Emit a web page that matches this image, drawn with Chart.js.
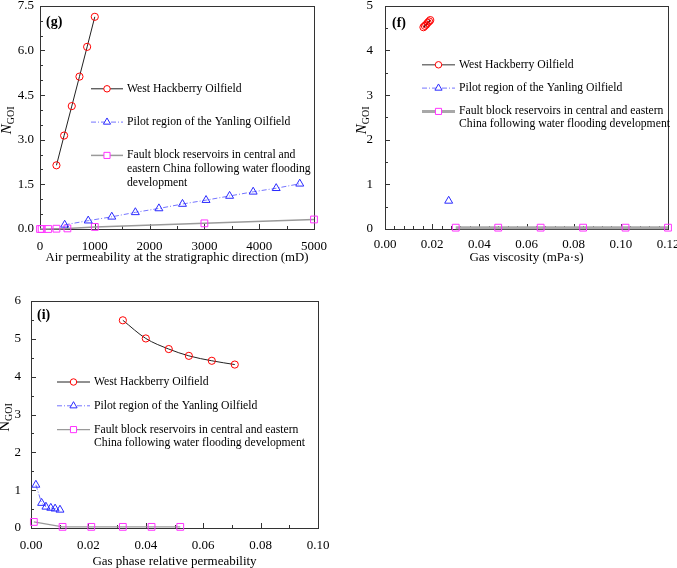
<!DOCTYPE html>
<html>
<head>
<meta charset="utf-8">
<script src="https://cdn.jsdelivr.net/npm/chart.js@4.4.0/dist/chart.umd.min.js"></script>
<style>
  body { margin: 0; background: #fff; width: 677px; height: 568px; position: relative; overflow: hidden; }
  .panel { position: absolute; }
</style>
</head>
<body>
<div class="panel" style="left:0;top:0;width:330px;height:270px"><canvas id="chartG"></canvas></div>
<div class="panel" style="left:340px;top:0;width:337px;height:270px"><canvas id="chartF"></canvas></div>
<div class="panel" style="left:0;top:280px;width:330px;height:288px"><canvas id="chartI"></canvas></div>
<script>
// series names (same three in every panel)
const seriesNames = [
    ['West Hackberry Oilfield'],
    ['Pilot region of the Yanling Oilfield'],
    ['Fault block reservoirs in central and eastern', 'China following water flooding development']
];
const seriesNamesG = [
    ['West Hackberry Oilfield'],
    ['Pilot region of the Yanling Oilfield'],
    ['Fault block reservoirs in central and', 'eastern China following water flooding', 'development']
];

// (g) air permeability at the stratigraphic direction (mD)
const gHackX = [300, 440, 580, 720, 860, 1000];
const gHackY = [2.14, 3.14, 4.13, 5.12, 6.12, 7.13];
const gYanX = [450, 880, 1310, 1740, 2170, 2600, 3030, 3460, 3890, 4310, 4740];
const gYanY = [0.14, 0.28, 0.41, 0.56, 0.69, 0.84, 0.97, 1.11, 1.25, 1.37, 1.52];
const gFaultX = [0, 30, 150, 300, 500, 1000, 3000, 5000];
const gFaultY = [0, 0, 0, 0.01, 0.02, 0.07, 0.19, 0.32];
const gXTicks = [0, 1000, 2000, 3000, 4000, 5000];
const gXTickLabels = ['0', '1000', '2000', '3000', '4000', '5000'];
const gYTicks = [0, 1.5, 3, 4.5, 6, 7.5];
const gYTickLabels = ['0.0', '1.5', '3.0', '4.5', '6.0', '7.5'];

// (f) gas viscosity (mPa·s)
const fHackX = [0.0163, 0.0169, 0.0175, 0.0181, 0.0187, 0.0192];
const fHackY = [4.52, 4.55, 4.58, 4.62, 4.65, 4.68];
const fYanX = [0.027];
const fYanY = [0.63];
const fFaultX = [0.030, 0.048, 0.066, 0.084, 0.102, 0.120];
const fFaultY = [0.03, 0.03, 0.03, 0.03, 0.03, 0.03];
const fXTicks = [0, 0.02, 0.04, 0.06, 0.08, 0.10, 0.12];
const fXTickLabels = ['0.00', '0.02', '0.04', '0.06', '0.08', '0.10', '0.12'];
const fYTicks = [0, 1, 2, 3, 4, 5];
const fYTickLabels = ['0', '1', '2', '3', '4', '5'];

// (i) gas phase relative permeability
const iHackX = [0.032, 0.040, 0.048, 0.055, 0.063, 0.071];
const iHackY = [5.49, 5.01, 4.73, 4.55, 4.42, 4.32];
const iYanX = [0.0017, 0.0037, 0.0052, 0.0069, 0.0084, 0.0101];
const iYanY = [1.14, 0.66, 0.56, 0.53, 0.51, 0.48];
const iFaultX = [0.001, 0.011, 0.021, 0.032, 0.042, 0.052];
const iFaultY = [0.16, 0.03, 0.03, 0.03, 0.03, 0.03];
const iXTicks = [0, 0.02, 0.04, 0.06, 0.08, 0.10];
const iXTickLabels = ['0.00', '0.02', '0.04', '0.06', '0.08', '0.10'];
const iYTicks = [0, 1, 2, 3, 4, 5, 6];
const iYTickLabels = ['0', '1', '2', '3', '4', '5', '6'];

const FONT = '"Liberation Serif", "Times New Roman", serif';

const HACK = { borderColor: '#222', borderWidth: 1, pointStyle: 'circle', pointRadius: 3.6, pointBorderColor: '#ff0000' };
const YAN = { borderColor: '#7474ff', borderWidth: 1, borderDash: [5, 2, 1, 2], pointStyle: 'triangle', pointRadius: 4.6, pointBorderColor: '#2a2aff' };
const FAULT = { borderColor: '#9a9a9a', borderWidth: 1.5, pointStyle: 'rect', pointRadius: 4.8, pointBorderColor: '#ff33ff' };

function series(name, xs, ys, style, extra) {
    return Object.assign({
        label: name.join(' '),
        legendText: name,
        data: xs.map((x, i) => ({ x: x, y: ys[i] })),
        showLine: true,
        clip: false,
        backgroundColor: 'rgba(0,0,0,0)',
        pointBackgroundColor: 'rgba(0,0,0,0)',
        pointBorderWidth: 1
    }, style, extra || {});
}

// draws box, inward ticks, panel letter, y title with subscript and the legend
const panelFrame = {
    id: 'panelFrame',
    beforeDatasetsDraw(chart, args, opts) {
        const ctx = chart.ctx;
        const a = chart.chartArea;
        const xs = chart.scales.x, ys = chart.scales.y;
        ctx.save();
        ctx.strokeStyle = '#333';
        ctx.lineWidth = 1;
        ctx.strokeRect(Math.round(a.left) + 0.5, Math.round(a.top) + 0.5, Math.round(a.right - a.left), Math.round(a.bottom - a.top));
        ctx.beginPath();
        const minorX = [], minorY = [];
        for (let v = xs.min; v <= xs.max + 1e-9; v += opts.minorX) minorX.push(v);
        for (let v = ys.min; v <= ys.max + 1e-9; v += opts.minorY) minorY.push(v);
        minorX.forEach(v => { const px = Math.round(xs.getPixelForValue(v)) + 0.5; ctx.moveTo(px, a.bottom); ctx.lineTo(px, a.bottom - 3); });
        minorY.forEach(v => { const py = Math.round(ys.getPixelForValue(v)) + 0.5; ctx.moveTo(a.left, py); ctx.lineTo(a.left + 3, py); });
        xs.ticks.forEach(t => { const px = Math.round(xs.getPixelForValue(t.value)) + 0.5; ctx.moveTo(px, a.bottom); ctx.lineTo(px, a.bottom - 5); });
        ys.ticks.forEach(t => { const py = Math.round(ys.getPixelForValue(t.value)) + 0.5; ctx.moveTo(a.left, py); ctx.lineTo(a.left + 5, py); });
        ctx.stroke();
        ctx.restore();
    },
    afterDraw(chart, args, opts) {
        const ctx = chart.ctx;
        const a = chart.chartArea;
        ctx.save();
        ctx.fillStyle = '#000';
        // panel letter
        ctx.font = 'bold 14px ' + FONT;
        ctx.textAlign = 'left';
        ctx.textBaseline = 'middle';
        ctx.fillText(opts.letter, a.left + opts.letterDx, a.top + opts.letterDy);
        // y title N_GOI
        ctx.save();
        ctx.translate(a.left + opts.titleDx, (a.top + a.bottom) / 2 + 3);
        ctx.rotate(-Math.PI / 2);
        const mainFont = (opts.italic ? 'italic ' : '') + '15px ' + FONT;
        const subFont = '10px ' + FONT;
        ctx.font = mainFont;
        const wN = ctx.measureText('N').width;
        ctx.font = subFont;
        const wS = ctx.measureText('GOI').width;
        const start = -(wN + wS) / 2;
        ctx.textBaseline = 'alphabetic';
        ctx.font = mainFont;
        ctx.fillText('N', start, 0);
        ctx.font = subFont;
        ctx.fillText('GOI', start + wN, 3);
        ctx.restore();
        // legend
        const lg = opts.legend;
        chart.data.datasets.forEach((ds, i) => {
            const x0 = a.left + lg.dx;
            const y0 = a.top + lg.dy + i * lg.rowGap;
            ctx.save();
            ctx.strokeStyle = ds.legendLine || ds.borderColor;
            ctx.lineWidth = ds.borderWidth;
            ctx.setLineDash(ds.borderDash || []);
            ctx.beginPath();
            ctx.moveTo(x0, y0);
            ctx.lineTo(x0 + lg.len, y0);
            ctx.stroke();
            ctx.setLineDash([]);
            ctx.lineWidth = 1;
            ctx.strokeStyle = ds.pointBorderColor;
            ctx.fillStyle = '#fff';
            Chart.helpers.drawPoint(ctx, { pointStyle: ds.pointStyle, rotation: 0, radius: ds.pointRadius * 0.9, borderWidth: 1 }, x0 + lg.len / 2, y0);
            ctx.restore();
            ctx.font = '11.7px ' + FONT;
            ctx.fillStyle = '#000';
            ctx.textAlign = 'left';
            ctx.textBaseline = 'middle';
            ds.legendText.forEach((line, k) => {
                ctx.fillText(line, x0 + lg.len + 4, y0 + k * lg.lineGap);
            });
        });
        ctx.restore();
    }
};

function fixAxis(size) {
    return function (scale) {
        if (scale.isHorizontal()) scale.height = size; else scale.width = size;
        scale.paddingLeft = 0; scale.paddingRight = 0; scale.paddingTop = 0; scale.paddingBottom = 0;
    };
}

function makePanel(id, cfg) {
    const tickFont = { family: FONT, size: 13 };
    new Chart(document.getElementById(id), {
        type: 'scatter',
        data: { datasets: cfg.datasets },
        options: {
            responsive: true,
            maintainAspectRatio: false,
            animation: false,
            events: [],
            layout: { padding: { left: 0, top: cfg.padTop, right: cfg.padRight, bottom: 0 } },
            plugins: {
                legend: { display: false },
                tooltip: { enabled: false },
                panelFrame: cfg.frame
            },
            scales: {
                x: {
                    type: 'linear',
                    min: cfg.xMin, max: cfg.xMax,
                    grid: { display: false, drawTicks: false },
                    border: { display: false },
                    afterBuildTicks: s => { s.ticks = cfg.xTicks.map(v => ({ value: v })); },
                    afterFit: fixAxis(cfg.xAxisSize),
                    ticks: {
                        autoSkip: false, maxRotation: 0, padding: cfg.xTickPad,
                        color: '#000', font: tickFont,
                        callback: (v, i) => cfg.xTickLabels[i]
                    },
                    title: {
                        display: true, text: cfg.xTitle, color: '#000',
                        font: { family: FONT, size: cfg.xTitleSize, lineHeight: 1 },
                        padding: { top: 0, bottom: cfg.xTitlePad }
                    }
                },
                y: {
                    type: 'linear',
                    min: cfg.yMin, max: cfg.yMax,
                    grid: { display: false, drawTicks: false },
                    border: { display: false },
                    afterBuildTicks: s => { s.ticks = cfg.yTicks.map(v => ({ value: v })); },
                    afterFit: fixAxis(cfg.yAxisSize),
                    ticks: {
                        autoSkip: false, padding: cfg.yTickPad,
                        color: '#000', font: tickFont,
                        callback: (v, i) => cfg.yTickLabels[i]
                    }
                }
            }
        },
        plugins: [panelFrame]
    });
}

makePanel('chartG', {
    datasets: [
        series(seriesNamesG[0], gHackX, gHackY, HACK),
        series(seriesNamesG[1], gYanX, gYanY, YAN),
        series(seriesNamesG[2], gFaultX, gFaultY, FAULT)
    ],
    xMin: 0, xMax: 5000, yMin: 0, yMax: 7.5,
    xTicks: gXTicks, xTickLabels: gXTickLabels, yTicks: gYTicks, yTickLabels: gYTickLabels,
    xTitle: 'Air permeability at the stratigraphic direction (mD)', xTitleSize: 12.8,
    padTop: 4, padRight: 16, xAxisSize: 41, yAxisSize: 40,
    xTickPad: 10, yTickPad: 6, xTitlePad: 6,
    frame: {
        letter: '(g)', letterDx: 6, letterDy: 17, titleDx: -29, italic: true, minorX: 500, minorY: 0.5,
        legend: { dx: 51, dy: 83, rowGap: 33.3, lineGap: 14, len: 32 }
    }
});

makePanel('chartF', {
    datasets: [
        series(seriesNames[0], fHackX, fHackY, HACK, { legendLine: '#777', borderWidth: 1.5 }),
        series(seriesNames[1], fYanX, fYanY, YAN),
        series(seriesNames[2], fFaultX, fFaultY, FAULT, { borderColor: '#a8a8a8', borderWidth: 3 })
    ],
    xMin: 0, xMax: 0.12, yMin: 0, yMax: 5,
    xTicks: fXTicks, xTickLabels: fXTickLabels, yTicks: fYTicks, yTickLabels: fYTickLabels,
    xTitle: 'Gas viscosity (mPa\u00b7s)', xTitleSize: 13,
    padTop: 4, padRight: 9, xAxisSize: 41, yAxisSize: 45,
    xTickPad: 8, yTickPad: 12, xTitlePad: 6,
    frame: {
        letter: '(f)', letterDx: 7, letterDy: 18, titleDx: -19, italic: true, minorX: 0.004, minorY: 0.5,
        legend: { dx: 37, dy: 59, rowGap: 23.3, lineGap: 13, len: 33 }
    }
});

makePanel('chartI', {
    datasets: [
        series(seriesNames[0], iHackX, iHackY, HACK, { cubicInterpolationMode: 'monotone' }),
        series(seriesNames[1], iYanX, iYanY, YAN),
        series(seriesNames[2], iFaultX, iFaultY, FAULT, { borderWidth: 1.2 })
    ],
    xMin: 0, xMax: 0.10, yMin: 0, yMax: 6,
    xTicks: iXTicks, xTickLabels: iXTickLabels, yTicks: iYTicks, yTickLabels: iYTickLabels,
    xTitle: 'Gas phase relative permeability', xTitleSize: 13,
    padTop: 21, padRight: 12, xAxisSize: 40, yAxisSize: 31,
    xTickPad: 10, yTickPad: 10, xTitlePad: 0,
    frame: {
        letter: '(i)', letterDx: 6, letterDy: 14, titleDx: -22.5, italic: false, minorX: 0.01, minorY: 0.5,
        legend: { dx: 26, dy: 81, rowGap: 23.8, lineGap: 13.7, len: 33 }
    }
});
</script>
</body>
</html>
